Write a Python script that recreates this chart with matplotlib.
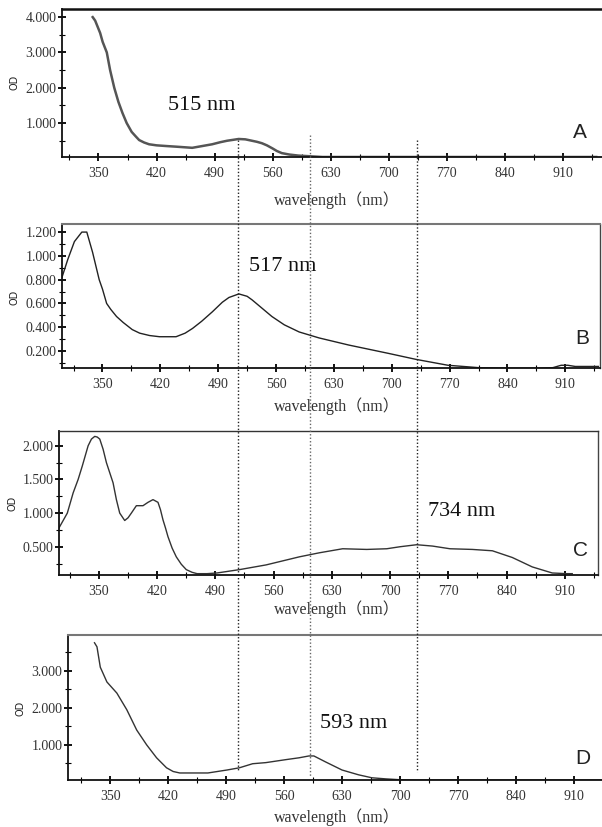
import numpy as np
import matplotlib.pyplot as plt
from matplotlib.lines import Line2D
from matplotlib.ticker import MultipleLocator, FormatStrFormatter

# spectra (wavelength nm, OD)
a_wl = [343, 346, 352, 355, 360, 364, 369, 374, 379, 384, 390, 395, 399, 405, 411, 420,
        432, 445, 463, 475, 487, 497, 505, 519, 527, 535, 541, 547, 553, 560, 565, 571,
        580, 591, 620, 950]
a_od = [4.0, 3.9, 3.55, 3.3, 3.0, 2.5, 2.0, 1.6, 1.28, 1.0, 0.75, 0.62, 0.52, 0.45,
        0.40, 0.37, 0.35, 0.33, 0.30, 0.35, 0.40, 0.46, 0.50, 0.55, 0.54, 0.50, 0.47,
        0.43, 0.37, 0.28, 0.21, 0.15, 0.11, 0.08, 0.04, 0.04]

b_wl = [301, 308, 316, 325, 331, 338, 346, 350, 355, 360, 367, 375, 386, 395, 407, 419,
        439, 450, 459, 470, 483, 495, 503, 515, 525, 531, 543, 555, 570, 588, 612, 648,
        696, 729, 768, 805, 844, 877, 895, 905, 913, 922, 950]
b_od = [0.82, 0.97, 1.12, 1.20, 1.20, 1.03, 0.80, 0.72, 0.60, 0.55, 0.49, 0.44, 0.38,
        0.35, 0.33, 0.32, 0.32, 0.35, 0.39, 0.45, 0.53, 0.61, 0.65, 0.68, 0.66, 0.63,
        0.56, 0.49, 0.42, 0.36, 0.31, 0.25, 0.18, 0.13, 0.08, 0.06, 0.055, 0.055, 0.06,
        0.08, 0.08, 0.07, 0.07]

c_wl = [302, 312, 319, 325, 330, 337, 341, 345, 348, 351, 355, 359, 363, 367, 371, 375,
        381, 385, 389, 395, 399, 403, 409, 415, 421, 424, 427, 430, 433, 438, 443, 449,
        455, 462, 468, 480, 492, 519, 551, 591, 615, 643, 672, 696, 712, 732, 751, 772,
        799, 823, 847, 871, 895, 912, 919]
c_od = [0.78, 1.0, 1.3, 1.5, 1.7, 2.0, 2.1, 2.14, 2.13, 2.1, 1.95, 1.75, 1.6, 1.45,
        1.2, 1.0, 0.89, 0.93, 1.0, 1.11, 1.11, 1.11, 1.16, 1.2, 1.16, 1.05, 0.9, 0.78,
        0.65, 0.48, 0.35, 0.24, 0.16, 0.12, 0.1, 0.1, 0.11, 0.16, 0.23, 0.35, 0.41, 0.47,
        0.46, 0.47, 0.5, 0.53, 0.51, 0.47, 0.46, 0.44, 0.34, 0.2, 0.11, 0.1, 0.1]

d_wl = [331, 334, 338, 346, 358, 370, 382, 394, 406, 418, 426, 434, 450, 468, 491, 506,
        522, 538, 562, 578, 590, 596, 610, 630, 650, 666, 683, 698, 720, 945]
d_od = [3.76, 3.65, 3.1, 2.7, 2.4, 1.95, 1.4, 1.0, 0.65, 0.38, 0.28, 0.24, 0.24, 0.24,
        0.32, 0.38, 0.49, 0.52, 0.6, 0.65, 0.7, 0.7, 0.54, 0.32, 0.19, 0.11, 0.08, 0.06,
        0.05, 0.05]

peaks = ['515 nm', '517 nm', '734 nm', '593 nm']
letters = ['A', 'B', 'C', 'D']
xticks = [350, 420, 490, 560, 630, 700, 770, 840, 910]

W, H = 602, 827
fig = plt.figure(figsize=(W / 100, H / 100), dpi=100)

def px_axes(l, r, t, b):
    return fig.add_axes([l / W, 1 - b / H, (r - l) / W, (b - t) / H])

def ftext(x, y, s, **kw):
    fig.text(x / W, 1 - y / H, s, ha='center', va='center', **kw)

# panel boxes in pixels: left, right, top, bottom, xlim, ylim, y major, y minor
panels = [
    (a_wl, a_od, (62, 602, 9, 157), (306, 957), (0.04, 4.23), 1.0, 0.5, 1.8, '#555555'),
    (b_wl, b_od, (62, 600, 224, 368), (301, 952), (0.057, 1.268), 0.2, 0.1, 1.0, '#222222'),
    (c_wl, c_od, (59, 598, 431, 575), (302, 950), (0.08, 2.22), 0.5, 0.25, 1.0, '#333333'),
    (d_wl, d_od, (68, 602, 635, 780), (299, 944), (0.05, 3.97), 1.0, 0.5, 1.0, '#333333'),
]

for i, (wl, od, box, xl, yl, ymaj, ymin, lw, col) in enumerate(panels):
    ax = px_axes(*box)
    ax.plot(wl, od, color=col, lw=lw)
    ax.set_xlim(*xl)
    ax.set_ylim(*yl)
    ax.set_xticks(xticks)
    ax.xaxis.set_minor_locator(MultipleLocator(35))
    ax.yaxis.set_major_locator(MultipleLocator(ymaj))
    ax.yaxis.set_minor_locator(MultipleLocator(ymin))
    ax.yaxis.set_major_formatter(FormatStrFormatter('%.3f'))
    ax.tick_params(which='major', direction='inout', length=6, width=1.3,
                   labelsize=10, labelcolor='#333333', pad=4)
    ax.tick_params(which='minor', direction='inout', length=5, width=0.8)
    ax.tick_params(axis='y', which='both', pad=1)
    for lab in ax.get_xticklabels() + ax.get_yticklabels():
        lab.set_family('Liberation Serif')
    for s in ['left', 'bottom']:
        ax.spines[s].set_color('#111111')
        ax.spines[s].set_linewidth(1.3)
    if i == 0:
        ax.spines['top'].set_color('#111111')
        ax.spines['top'].set_linewidth(1.8)
        ax.spines['right'].set_visible(False)
    elif i == 3:
        ax.spines['top'].set_color('#777777')
        ax.spines['top'].set_linewidth(1.5)
        ax.spines['right'].set_visible(False)
    else:
        ax.spines['top'].set_color('#777777' if i == 1 else '#333333')
        ax.spines['top'].set_linewidth(1.5 if i == 1 else 1.0)
        ax.spines['right'].set_color('#444444')
        ax.spines['right'].set_linewidth(1.0)

# axis titles, letters and peak labels
lab_pos = [(337, 200), (337, 406), (337, 609), (337, 817)]
od_pos = [(15, 82), (15, 297), (12, 503), (20, 708)]
let_pos = [(580, 133), (582, 338), (580, 551), (583, 758)]
peak_pos = [(202, 105), (283, 267), (462, 512), (354, 723)]
for i in range(4):
    ftext(*lab_pos[i], 'wavelength（nm）', fontsize=11.5, color='#333333',
          family=['Liberation Serif', 'Noto Sans CJK JP'])
    ftext(*od_pos[i], 'OD', fontsize=7, rotation=90, color='#222222',
          family='DejaVu Sans')
    ftext(*let_pos[i], letters[i], fontsize=15, color='#222222',
          family='Liberation Sans')
    ftext(*peak_pos[i], peaks[i], fontsize=16, color='#111111',
          family='Liberation Serif')

# dotted guide lines across panels (figure pixels)
guides = [(238, 140, 770, '#222222'), (310, 135, 777, '#666666'), (417, 140, 772, '#222222')]
for x, y0, y1, c in guides:
    fig.add_artist(Line2D([x / W, x / W], [1 - y0 / H, 1 - y1 / H],
                          transform=fig.transFigure, ls=(0, (1, 1.5)), lw=1.0, color=c))

fig.savefig('out.png', dpi=100)
